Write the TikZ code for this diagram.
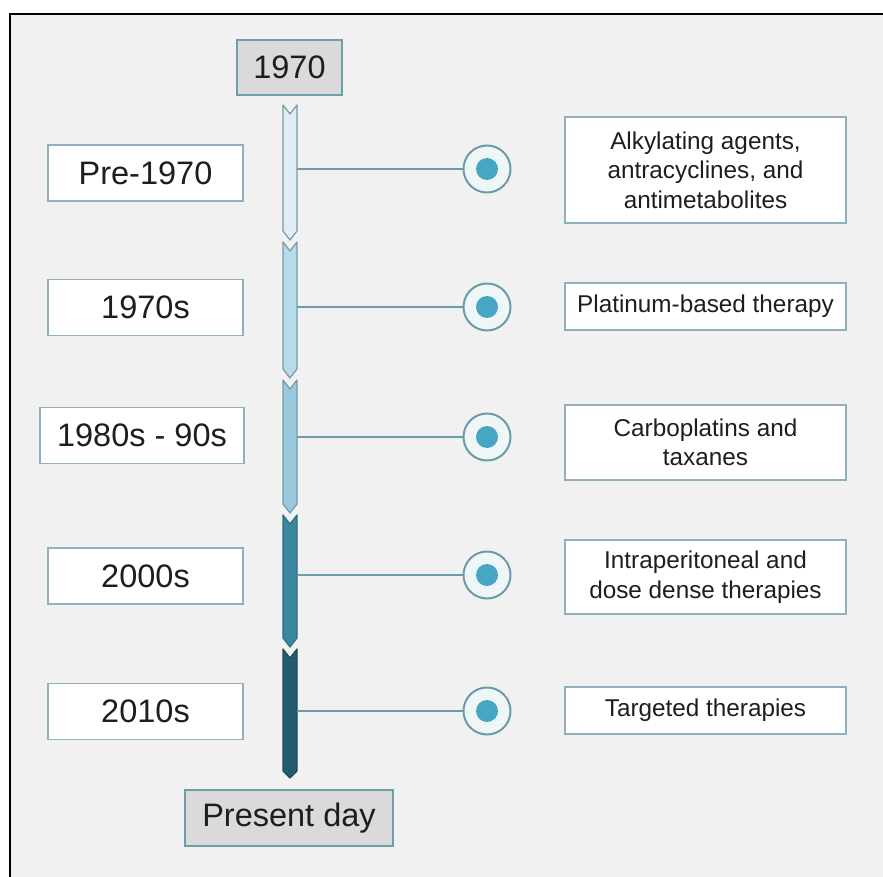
\documentclass[tikz,border=0pt]{standalone}
\usepackage{fontspec}
\setmainfont{Liberation Sans}
\definecolor{panel}{HTML}{F1F1F1}
\definecolor{boxline}{HTML}{8FB1BC}
\definecolor{capfill}{HTML}{DADADA}
\definecolor{capline}{HTML}{6E9EAA}
\definecolor{linkline}{HTML}{6D9CA8}
\definecolor{dotfill}{HTML}{46A6C3}
\definecolor{ringfill}{HTML}{EEF6F8}
\definecolor{segA}{HTML}{DFEEF6}
\definecolor{segB}{HTML}{B6DBE9}
\definecolor{segC}{HTML}{99C9DC}
\definecolor{segD}{HTML}{3B87A0}
\definecolor{segE}{HTML}{255B6F}
\definecolor{segline}{HTML}{7A98A6}
\definecolor{ink}{HTML}{1E1E1E}
\tikzset{
  era/.style={draw=boxline, line width=1.3pt, fill=white, inner sep=0pt, text=ink,
    minimum height=56pt, font=\fontsize{32.5}{37}\selectfont},
  event/.style={draw=boxline, line width=1.3pt, fill=white, inner sep=0pt, text=ink,
    minimum width=281pt, align=center, font=\fontsize{24.3}{29.5}\selectfont},
  capbox/.style={draw=capline, line width=2.2pt, fill=capfill, inner sep=0pt, text=ink,
    minimum height=55pt, font=\fontsize{32.5}{37}\selectfont},
  ring/.style={circle, draw=linkline, line width=2pt, fill=ringfill,
    minimum size=47pt, inner sep=0pt},
  dot/.style={circle, fill=dotfill, minimum size=22pt, inner sep=0pt},
  link/.style={draw=linkline, line width=2pt},
  seg/.style={draw=segline, line width=1.2pt, line join=round}
}
\begin{document}
\begin{tikzpicture}[x=1pt, y=-1pt]
  % page and panel
  \fill[white] (0,0) rectangle (883,877);
  \useasboundingbox (0,0) rectangle (883,877);
  \fill[panel] (10,14) rectangle (883,877);
  \draw[black, line width=2pt] (10,877) -- (10,14) -- (883,14);

  % timeline bar, one chevron segment per era
  \def\xl{283}\def\xr{297}\def\xc{290}\def\dd{9}
  \draw[seg, fill=segA] (\xl,105) -- (\xc,105+\dd) -- (\xr,105) -- (\xr,240-\dd) -- (\xc,240) -- (\xl,240-\dd) -- cycle;
  \draw[seg, fill=segB] (\xl,242) -- (\xc,242+\dd) -- (\xr,242) -- (\xr,378-\dd) -- (\xc,378) -- (\xl,378-\dd) -- cycle;
  \draw[seg, fill=segC] (\xl,380) -- (\xc,380+\dd) -- (\xr,380) -- (\xr,513-\dd) -- (\xc,513) -- (\xl,513-\dd) -- cycle;
  \draw[seg, draw=segD!80!black, fill=segD] (\xl,515) -- (\xc,515+\dd) -- (\xr,515) -- (\xr,647-\dd) -- (\xc,647) -- (\xl,647-\dd) -- cycle;
  \draw[seg, draw=segE!80!black, fill=segE] (\xl,649) -- (\xc,649+\dd) -- (\xr,649) -- (\xr,771) -- (\xc,778) -- (\xl,771) -- cycle;

  % start and end captions
  \node[capbox, minimum width=105pt] (start) at (289.5,67.5) {1970};
  \node[capbox, minimum width=208pt, minimum height=56pt] (end) at (289,818) {Present day};

  % era labels
  \node[era, minimum width=195pt] (e1) at (145.5,173) {Pre-1970};
  \node[era, minimum width=195pt] (e2) at (145.5,307.5) {1970s};
  \node[era, minimum width=204pt] (e3) at (142,435.5) {1980s - 90s};
  \node[era, minimum width=195pt] (e4) at (145.5,576) {2000s};
  \node[era, minimum width=195pt] (e5) at (145.5,711.5) {2010s};

  % event descriptions
  \node[event, minimum height=106pt] (t1) at (705.5,170) {Alkylating agents,\\antracyclines, and\\antimetabolites};
  \node[event, minimum height=47pt] (t2) at (705.5,306.5) {Platinum-based therapy};
  \node[event, minimum height=75pt] (t3) at (705.5,442.5) {Carboplatins and\\taxanes};
  \node[event, minimum height=74pt] (t4) at (705.5,577) {Intraperitoneal and\\dose dense therapies};
  \node[event, minimum height=47pt] (t5) at (705.5,710.5) {Targeted therapies};

  % markers and their links to the bar
  \foreach \i/\y in {1/169, 2/307, 3/437, 4/575, 5/711} {
    \coordinate (b\i) at (\xr,\y);
    \node[ring] (c\i) at (487,\y) {};
    \node[dot] (d\i) at (c\i) {};
    \draw[link] (b\i) -- (c\i);
  }
\end{tikzpicture}
\end{document}
